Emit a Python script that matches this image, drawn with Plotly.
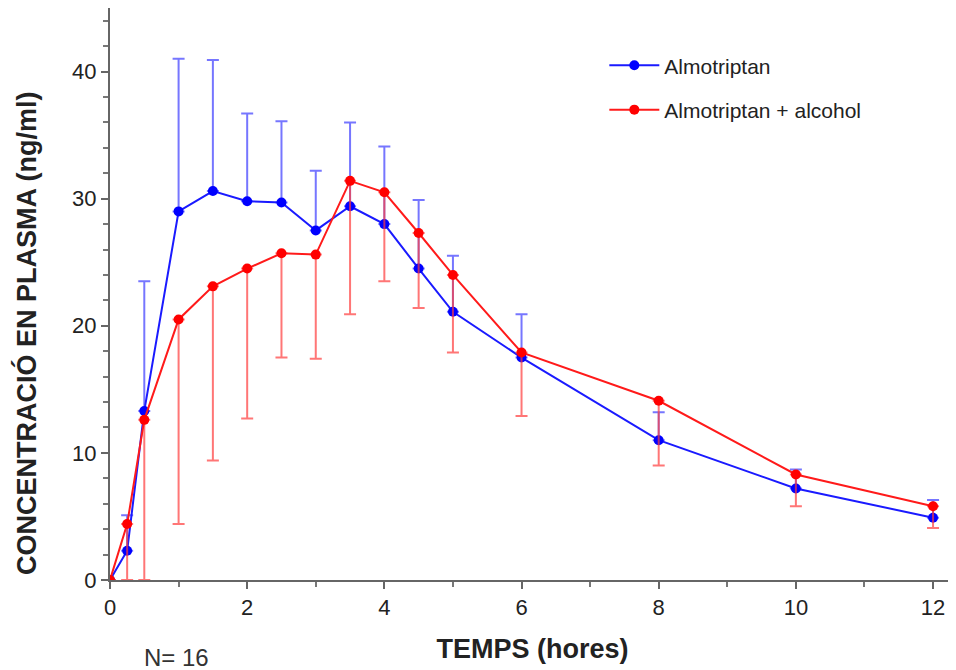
import plotly.graph_objects as go

temps = [0, 0.25, 0.5, 1, 1.5, 2, 2.5, 3, 3.5, 4, 4.5, 5, 6, 8, 10, 12]

almo = [0, 2.3, 13.3, 29.0, 30.6, 29.8, 29.7, 27.5, 29.4, 28.0, 24.5, 21.1, 17.5, 11.0, 7.2, 4.9]
almo_sup = [0, 5.1, 23.5, 41.0, 40.9, 36.7, 36.1, 32.2, 36.0, 34.1, 29.9, 25.5, 20.9, 13.2, 8.7, 6.3]

alco = [0, 4.4, 12.6, 20.5, 23.1, 24.5, 25.7, 25.6, 31.4, 30.5, 27.3, 24.0, 17.9, 14.1, 8.3, 5.8]
alco_inf = [0, 0.0, 0.0, 4.4, 9.4, 12.7, 17.5, 17.4, 20.9, 23.5, 21.4, 17.9, 12.9, 9.0, 5.8, 4.1]

font = "Liberation Sans, Arial, sans-serif"

fig = go.Figure()

fig.add_trace(go.Scatter(
    x=temps, y=almo, name="Almotriptan", mode="lines+markers", legendgroup="a",
    line=dict(color="#1a1aff", width=2),
    marker=dict(color="blue", size=10),
    error_y=dict(type="data", symmetric=False,
                 array=[hi - v for v, hi in zip(almo, almo_sup)],
                 arrayminus=[0] * len(almo),
                 color="rgba(60,60,255,0.7)", thickness=2, width=6),
))
fig.add_trace(go.Scatter(
    x=temps, y=alco, name="Almotriptan + alcohol", mode="lines+markers", legendgroup="b",
    line=dict(color="#ff1a1a", width=2),
    marker=dict(color="red", size=10),
    error_y=dict(type="data", symmetric=False,
                 array=[0] * len(alco),
                 arrayminus=[v - lo for v, lo in zip(alco, alco_inf)],
                 color="rgba(255,60,60,0.7)", thickness=2, width=6),
))

# the page adds an 8px body margin, so the figure is sized to fit inside it
fig.update_layout(
    width=948, height=662,
    margin=dict(l=102, r=1, t=0, b=90, autoexpand=False),
    plot_bgcolor="white", paper_bgcolor="white",
    font=dict(family=font, size=22, color="#222"),
    showlegend=True,
    legend=dict(x=0.585, y=0.935, xanchor="left", yanchor="top",
                bgcolor="rgba(0,0,0,0)",
                font=dict(size=21), itemwidth=50, tracegroupgap=14),
)

fig.update_xaxes(
    range=[0, 12.32], tickvals=[0, 2, 4, 6, 8, 10, 12],
    showgrid=False, zeroline=False, automargin=False,
    showline=True, linecolor="#666", linewidth=2,
    ticks="outside", ticklen=7, tickwidth=2, tickcolor="#666",
    minor=dict(dtick=1, ticks="outside", ticklen=5, tickwidth=2, tickcolor="#777"),
    title=dict(text="<b>TEMPS (hores)</b>", font=dict(size=27), standoff=20),
)
fig.update_yaxes(
    range=[0, 45], tickvals=[0, 10, 20, 30, 40],
    showgrid=False, zeroline=False, automargin=False,
    showline=True, linecolor="#666", linewidth=2,
    ticks="outside", ticklen=7, tickwidth=2, tickcolor="#666",
    minor=dict(dtick=2, ticks="outside", ticklen=5, tickwidth=2, tickcolor="#777"),
)

# y title sits lower than the axis centre in the original, so it is an annotation
fig.add_annotation(
    xref="paper", yref="paper", x=(26 - 110) / 845, y=(580 - 334) / 572,
    xanchor="center", yanchor="middle", textangle=-90, showarrow=False,
    text="<b>CONCENTRACIÓ EN PLASMA (ng/ml)</b>", font=dict(size=27, color="#222"),
)
fig.add_annotation(
    xref="paper", yref="paper", x=(176 - 110) / 845, y=(580 - 657) / 572,
    xanchor="center", yanchor="middle", text="N= 16", showarrow=False,
    font=dict(size=24, color="#333"),
)

fig.write_html("out.html")
